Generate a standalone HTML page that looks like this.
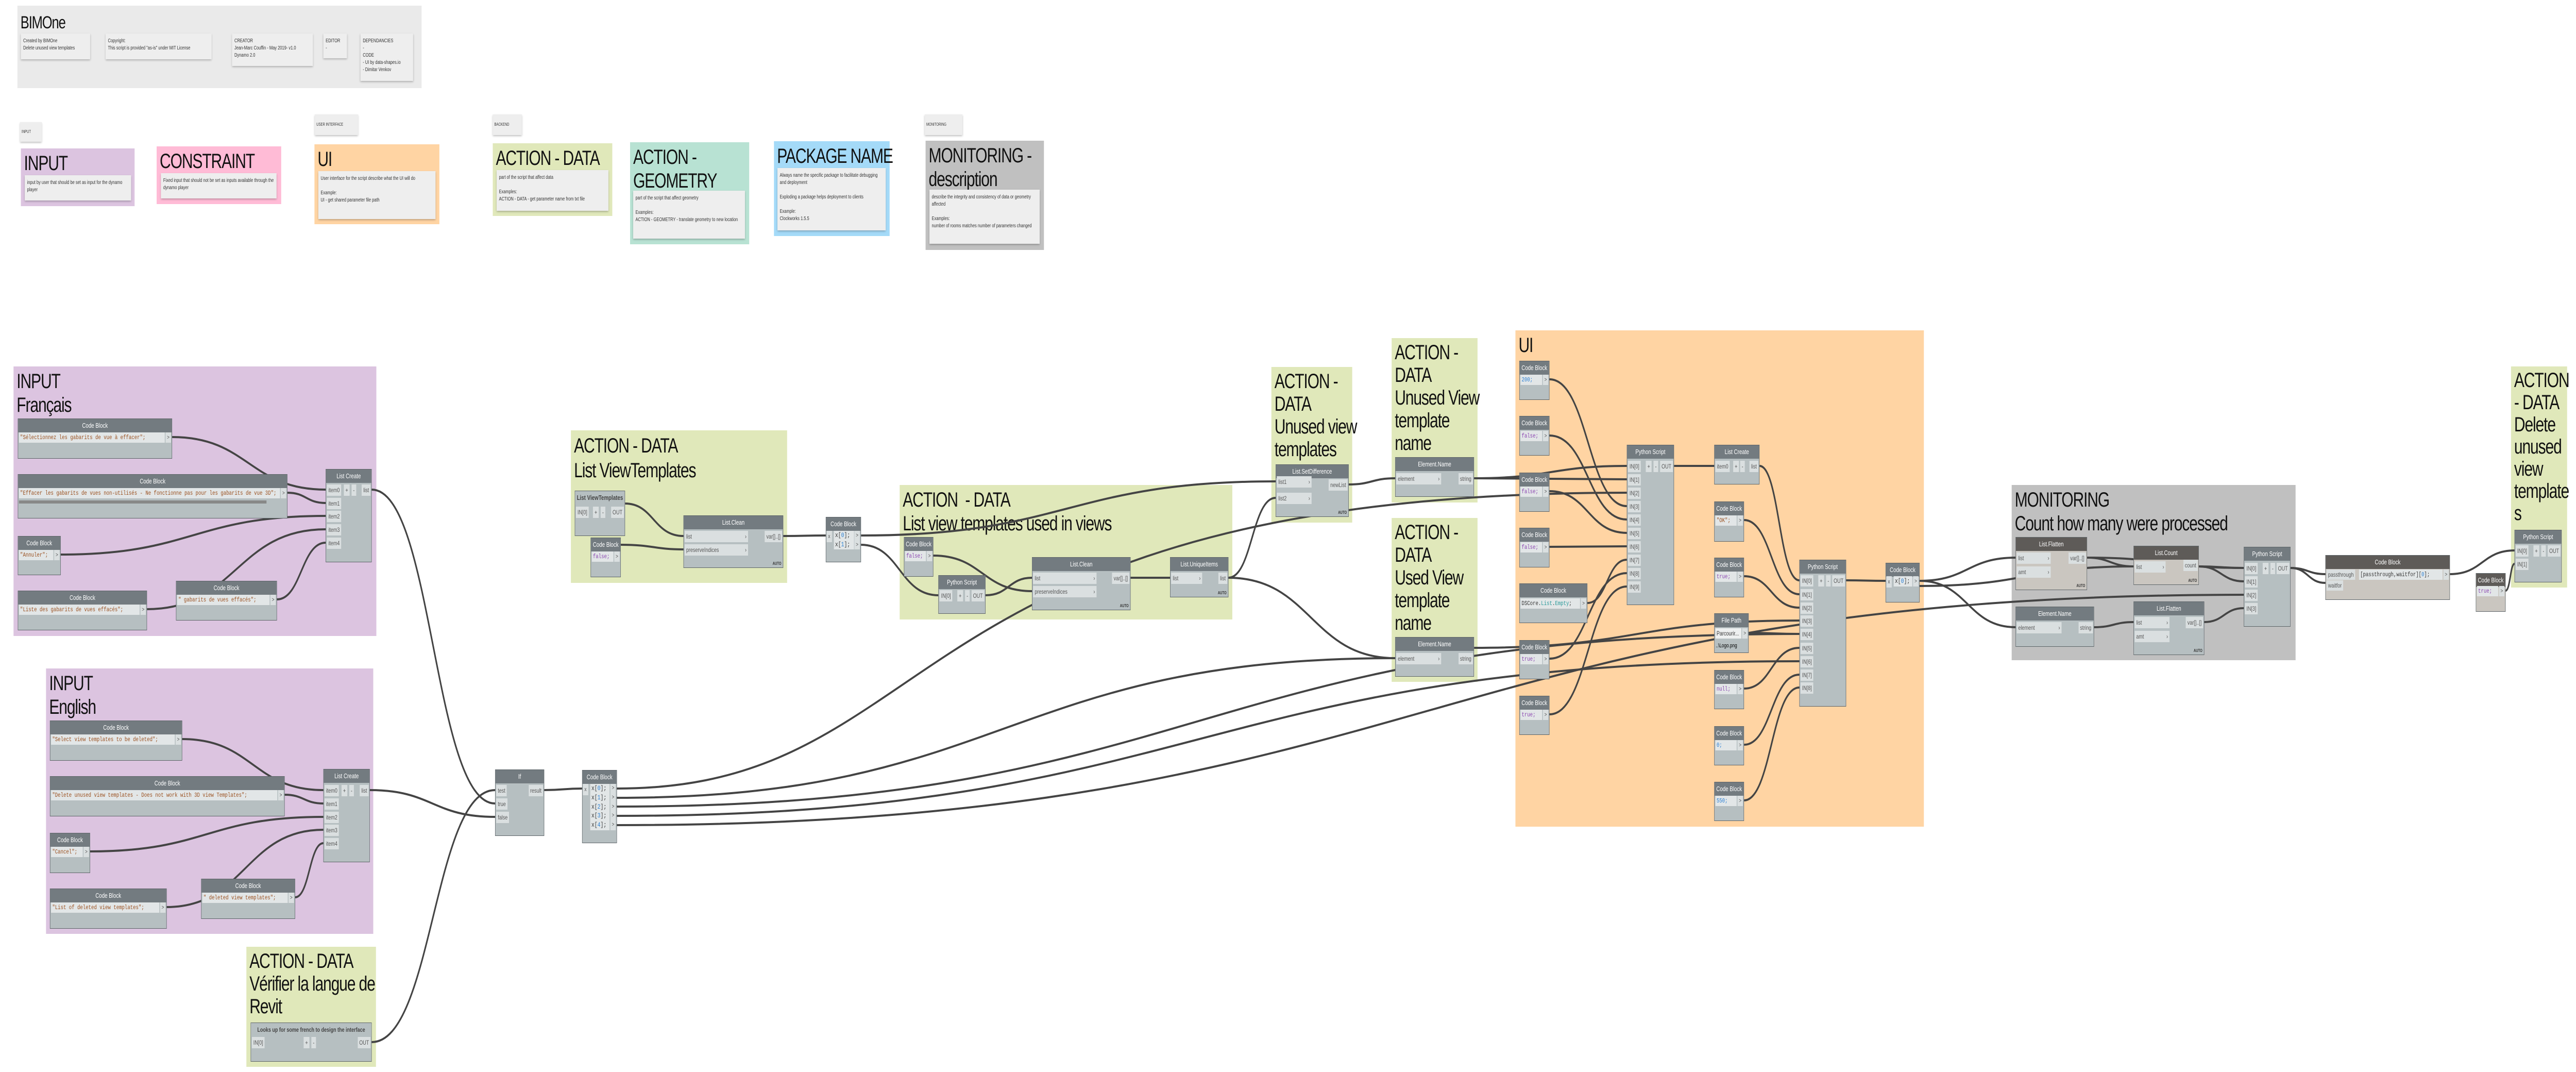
<!DOCTYPE html>
<html><head><meta charset="utf-8">
<style>
*{margin:0;padding:0;box-sizing:border-box}
html,body{margin:0;padding:0;background:#fff;overflow:hidden}
body{width:6660px;height:2080px}
#root{width:6660px;height:2080px;background:#fff;position:relative;overflow:hidden;font-family:"Liberation Sans",sans-serif;transform-origin:0 0}
.grp{position:absolute;z-index:1}
.gt{position:absolute;left:8px;top:6px;font-size:40px;line-height:46px;color:#111;white-space:nowrap;letter-spacing:-1.5px}
.note{position:absolute;background:#eeeeee;box-shadow:0 2px 4px rgba(0,0,0,.25);font-size:10px;line-height:14px;padding:8px 6px;color:#333;z-index:2}
svg.w{position:absolute;left:0;top:0;z-index:3}
.n{position:absolute;background:#B6BFC1;border:1px solid #5d6468;z-index:4}
.n.d{background:#CAC6C0}
.h{height:26px;background:#737B80;color:#fff;font-size:13px;line-height:26px;text-align:center;white-space:nowrap;overflow:hidden}
.d .h{background:#5E5B58}
.h.l{background:#B6BFC1;color:#444;font-weight:bold}
.r{position:absolute;height:22px;line-height:22px;background:#DADFE0;font-size:12px;color:#555;padding:0 4px;white-space:nowrap}
.c{position:absolute;left:2px;height:20px;line-height:20px;background:#E2E6E7;font-family:"Liberation Mono",monospace;font-size:12px;color:#333;padding:0 3px;white-space:nowrap;overflow:hidden}
.o{position:absolute;right:2px;width:14px;height:20px;line-height:20px;background:#DADFE0;font-size:11px;color:#555;text-align:center}
.s{color:#9a4f1e}.k{color:#8a44b0}.nm{color:#2a7fd4}.t{color:#2a9a9a}
.au{position:absolute;right:4px;bottom:3px;font-size:8px;font-weight:bold;color:#333}
</style></head><body>
<div id="root">

<!-- header -->
<div class="grp" style="left:45px;top:11px;width:1045px;height:160px;background:#EAEAEA"><div class="gt" style="font-size:34px;top:10px">BIMOne</div></div>
<div class="note" style="left:54px;top:65px;width:179px;height:50px">Created by BIMOne<br>Delete unused view templates</div>
<div class="note" style="left:273px;top:65px;width:274px;height:50px">Copyright:<br>This script is provided "as-is" under MIT License</div>
<div class="note" style="left:600px;top:65px;width:209px;height:63px">CREATOR<br>Jean-Marc Couffin - May 2019- v1.0<br>Dynamo 2.0</div>
<div class="note" style="left:836px;top:65px;width:61px;height:48px">EDITOR<br>-</div>
<div class="note" style="left:932px;top:65px;width:136px;height:92px">DEPENDANCIES<br>-<br>CODE<br>- UI by data-shapes.io<br>- Dimitar Venkov</div>

<!-- legend -->
<div class="note" style="left:52px;top:237px;width:56px;height:38px;font-size:8px;padding:12px 4px">INPUT</div>
<div class="note" style="left:814px;top:222px;width:112px;height:40px;font-size:8px;padding:13px 4px">USER INTERFACE</div>
<div class="note" style="left:1274px;top:222px;width:75px;height:40px;font-size:8px;padding:13px 4px">BACKEND</div>
<div class="note" style="left:2391px;top:222px;width:97px;height:40px;font-size:8px;padding:13px 4px">MONITORING</div>

<div class="grp" style="left:54px;top:288px;width:294px;height:112px;background:#DCC4E0"><div class="gt">INPUT</div></div>
<div class="note" style="left:64px;top:340px;width:275px;height:49px">input by user that should be set as input for the dynamo player</div>
<div class="grp" style="left:405px;top:284px;width:322px;height:112px;background:#FFBBD6"><div class="gt">CONSTRAINT</div></div>
<div class="note" style="left:416px;top:336px;width:299px;height:49px">Fixed input that should not be set as inputs available through the dynamo player</div>
<div class="grp" style="left:813px;top:280px;width:323px;height:155px;background:#FFD4A3"><div class="gt">UI</div></div>
<div class="note" style="left:823px;top:332px;width:303px;height:93px">User interface for the script describe what the UI will do<br><br>Example:<br>UI - get shared parameter file path</div>
<div class="grp" style="left:1274px;top:278px;width:309px;height:141px;background:#E0E8BA"><div class="gt">ACTION - DATA</div></div>
<div class="note" style="left:1284px;top:330px;width:289px;height:79px">part of the script that affect data<br><br>Examples:<br>ACTION - DATA - get parameter name from txt file</div>
<div class="grp" style="left:1629px;top:276px;width:308px;height:198px;background:#B8E2D3"><div class="gt">ACTION -<br>GEOMETRY</div></div>
<div class="note" style="left:1637px;top:370px;width:289px;height:93px">part of the script that affect geometry<br><br>Examples:<br>ACTION - GEOMETRY - translate geometry to new location</div>
<div class="grp" style="left:2001px;top:274px;width:299px;height:184px;background:#A4DAF8"><div class="gt">PACKAGE NAME</div></div>
<div class="note" style="left:2010px;top:326px;width:280px;height:121px">Always name the specific package to facilitate debugging and deployment<br><br>Exploding a package helps deployment to clients<br><br>Example:<br>Clockworks 1.5.5</div>
<div class="grp" style="left:2393px;top:273px;width:306px;height:212px;background:#C0C0C0"><div class="gt">MONITORING -<br>description</div></div>
<div class="note" style="left:2403px;top:368px;width:285px;height:105px">describe the integrity and consistency of data or geometry affected<br><br>Examples:<br>number of rooms matches number of parameters changed</div>

<!-- main groups -->
<div class="grp" style="left:35px;top:711px;width:938px;height:523px;background:#DCC4E0"><div class="gt">INPUT<br>Français</div></div>
<div class="grp" style="left:119px;top:1297px;width:846px;height:515px;background:#DCC4E0"><div class="gt">INPUT<br>English</div></div>
<div class="grp" style="left:637px;top:1837px;width:335px;height:233px;background:#E0E8BA"><div class="gt" style="line-height:44px">ACTION - DATA<br>Vérifier la langue de<br>Revit</div></div>
<div class="grp" style="left:1476px;top:835px;width:559px;height:296px;background:#E0E8BA"><div class="gt" style="line-height:48px">ACTION - DATA<br>List ViewTemplates</div></div>
<div class="grp" style="left:2326px;top:941px;width:860px;height:261px;background:#E0E8BA"><div class="gt">ACTION&nbsp; - DATA<br>List view templates used in views</div></div>
<div class="grp" style="left:3287px;top:712px;width:209px;height:302px;background:#E0E8BA"><div class="gt" style="line-height:44px">ACTION -<br>DATA<br>Unused view<br>templates</div></div>
<div class="grp" style="left:3598px;top:656px;width:222px;height:319px;background:#E0E8BA"><div class="gt" style="line-height:44px">ACTION -<br>DATA<br>Unused View<br>template<br>name</div></div>
<div class="grp" style="left:3598px;top:1005px;width:222px;height:318px;background:#E0E8BA"><div class="gt" style="line-height:44px">ACTION -<br>DATA<br>Used View<br>template<br>name</div></div>
<div class="grp" style="left:3918px;top:641px;width:1056px;height:963px;background:#FFD4A3"><div class="gt">UI</div></div>
<div class="grp" style="left:5201px;top:941px;width:734px;height:340px;background:#C0C0C0"><div class="gt">MONITORING<br>Count how many were processed</div></div>
<div class="grp" style="left:6492px;top:711px;width:145px;height:429px;background:#E0E8BA"><div class="gt" style="line-height:43px">ACTION<br>- DATA<br>Delete<br>unused<br>view<br>template<br>s</div></div>

<svg class="w" width="6660" height="2080" fill="none" stroke="#444" stroke-width="4">
<path d="M445 848C643 848 644 950 842 950"/>
<path d="M743 956C792 956 792 976 842 976"/>
<path d="M157 1076C500 1076 500 1001 842 1001"/>
<path d="M380 1182C611 1182 611 1027 842 1027"/>
<path d="M716 1163C779 1163 779 1053 842 1053"/>
<path d="M471 1434C654 1434 654 1533 836 1533"/>
<path d="M736 1542C786 1542 786 1559 836 1559"/>
<path d="M233 1652C535 1652 535 1585 836 1585"/>
<path d="M431 1760C634 1760 634 1610 836 1610"/>
<path d="M763 1741C800 1741 800 1636 836 1636"/>
<path d="M961 950C1120 950 1120 1559 1280 1559"/>
<path d="M956 1533C1118 1533 1118 1585 1280 1585"/>
<path d="M961 2022C1120 2022 1120 1533 1280 1533"/>
<path d="M1407 1533C1456 1533 1456 1530 1505 1530"/>
<path d="M1595 1530C2450 1530 2300 956 4206 956"/>
<path d="M1595 1548C2600 1548 2600 1277 3607 1277"/>
<path d="M1595 1565C3100 1565 3100 1230 4652 1230"/>
<path d="M1595 1583C3100 1583 3100 1283 4652 1283"/>
<path d="M1595 1601C3700 1601 3700 1154 5801 1154"/>
<path d="M1616 977C1690 977 1690 1040 1767 1040"/>
<path d="M1605 1057C1690 1057 1690 1066 1767 1066"/>
<path d="M2025 1040C2080 1040 2080 1039 2135 1039"/>
<path d="M2226 1039C2760 1039 2760 934 3298 934"/>
<path d="M2226 1057C2326 1057 2326 1155 2426 1155"/>
<path d="M2413 1078C2540 1078 2540 1147 2668 1147"/>
<path d="M2548 1155C2608 1155 2608 1121 2668 1121"/>
<path d="M2923 1121C2974 1121 2974 1121 3025 1121"/>
<path d="M3176 1121C3237 1121 3237 966 3298 966"/>
<path d="M3176 1121C3390 1121 3390 1277 3607 1277"/>
<path d="M3487 940C3547 940 3547 928 3607 928"/>
<path d="M3811 928C4010 928 4010 904 4206 904"/>
<path d="M3811 928C4010 928 4010 930 4206 930"/>
<path d="M4006 736C4106 736 4106 982 4206 982"/>
<path d="M4006 845C4106 845 4106 1008 4206 1008"/>
<path d="M4006 953C4106 953 4106 1034 4206 1034"/>
<path d="M4006 1061C4106 1061 4106 1060 4206 1060"/>
<path d="M4104 1170C4155 1170 4155 1086 4206 1086"/>
<path d="M4006 1278C4106 1278 4106 1112 4206 1112"/>
<path d="M4006 1386C4106 1386 4106 1138 4206 1138"/>
<path d="M4328 904C4380 904 4380 904 4432 904"/>
<path d="M4549 904C4600 904 4600 1126 4652 1126"/>
<path d="M4509 1009C4580 1009 4580 1153 4652 1153"/>
<path d="M4509 1118C4580 1118 4580 1179 4652 1179"/>
<path d="M3811 1257C4230 1257 4230 1204 4652 1204"/>
<path d="M4521 1228C4586 1228 4586 1230 4652 1230"/>
<path d="M4509 1336C4580 1336 4580 1257 4652 1257"/>
<path d="M4509 1445C4580 1445 4580 1309 4652 1309"/>
<path d="M4509 1553C4580 1553 4580 1334 4652 1334"/>
<path d="M4773 1126C4824 1126 4824 1127 4875 1127"/>
<path d="M4963 1127C5087 1127 5087 1082 5211 1082"/>
<path d="M4963 1127C5087 1127 5087 1217 5211 1217"/>
<path d="M4963 1137C5240 1137 5240 1099 5516 1099"/>
<path d="M5396 1082C5456 1082 5456 1099 5516 1099"/>
<path d="M5396 1082C5600 1082 5600 1102 5801 1102"/>
<path d="M5685 1099C5743 1099 5743 1128 5801 1128"/>
<path d="M5685 1099C5743 1099 5743 1102 5801 1102"/>
<path d="M5414 1217C5465 1217 5465 1207 5516 1207"/>
<path d="M5699 1207C5750 1207 5750 1180 5801 1180"/>
<path d="M5922 1102C5967 1102 5967 1114 6012 1114"/>
<path d="M5922 1102C5967 1102 5967 1131 6012 1131"/>
<path d="M6334 1114C6418 1114 6418 1068 6501 1068"/>
<path d="M6478 1146C6490 1146 6490 1094 6501 1094"/>
</svg>

<!-- Français nodes -->
<div class="n" style="left:46px;top:812px;width:399px;height:78px"><div class="h">Code Block</div><div class="c s" style="top:26px;right:18px">"Sélectionnez les gabarits de vue à effacer";</div><div class="o" style="top:26px">&gt;</div></div>
<div class="n" style="left:46px;top:920px;width:697px;height:86px"><div class="h">Code Block</div><div class="c s" style="top:26px;right:18px">"Effacer les gabarits de vues non-utilisés - Ne fonctionne pas pour les gabarits de vue 3D";</div><div class="o" style="top:26px">&gt;</div><div style="position:absolute;left:2px;top:50px;width:640px;height:6px;background:#888"></div></div>
<div class="n" style="left:46px;top:1040px;width:111px;height:76px"><div class="h">Code Block</div><div class="c s" style="top:26px;right:18px">"Annuler";</div><div class="o" style="top:26px">&gt;</div></div>
<div class="n" style="left:46px;top:1146px;width:334px;height:77px"><div class="h">Code Block</div><div class="c s" style="top:26px;right:18px">"Liste des gabarits de vues effacés";</div><div class="o" style="top:26px">&gt;</div></div>
<div class="n" style="left:455px;top:1127px;width:261px;height:77px"><div class="h">Code Block</div><div class="c s" style="top:26px;right:18px">" gabarits de vues effacés";</div><div class="o" style="top:26px">&gt;</div></div>
<div class="n" style="left:842px;top:910px;width:119px;height:181px"><div class="h">List Create</div>
<div class="r" style="left:2px;top:29px">item0</div><div class="r" style="left:2px;top:55px">item1</div><div class="r" style="left:2px;top:80px">item2</div><div class="r" style="left:2px;top:106px">item3</div><div class="r" style="left:2px;top:132px">item4</div><div class="r" style="left:46px;top:29px">+</div><div class="r" style="left:66px;top:29px">-</div><div class="r" style="right:2px;top:29px">list</div></div>

<!-- English nodes -->
<div class="n" style="left:129px;top:1398px;width:342px;height:78px"><div class="h">Code Block</div><div class="c s" style="top:26px;right:18px">"Select view templates to be deleted";</div><div class="o" style="top:26px">&gt;</div></div>
<div class="n" style="left:129px;top:1506px;width:607px;height:78px"><div class="h">Code Block</div><div class="c s" style="top:26px;right:18px">"Delete unused view templates - Does not work with 3D view Templates";</div><div class="o" style="top:26px">&gt;</div></div>
<div class="n" style="left:129px;top:1616px;width:104px;height:78px"><div class="h">Code Block</div><div class="c s" style="top:26px;right:18px">"Cancel";</div><div class="o" style="top:26px">&gt;</div></div>
<div class="n" style="left:129px;top:1724px;width:302px;height:78px"><div class="h">Code Block</div><div class="c s" style="top:26px;right:18px">"List of deleted view templates";</div><div class="o" style="top:26px">&gt;</div></div>
<div class="n" style="left:520px;top:1705px;width:243px;height:78px"><div class="h">Code Block</div><div class="c s" style="top:26px;right:18px">" deleted view templates";</div><div class="o" style="top:26px">&gt;</div></div>
<div class="n" style="left:836px;top:1492px;width:120px;height:181px"><div class="h">List Create</div>
<div class="r" style="left:2px;top:30px">item0</div><div class="r" style="left:2px;top:56px">item1</div><div class="r" style="left:2px;top:82px">item2</div><div class="r" style="left:2px;top:107px">item3</div><div class="r" style="left:2px;top:133px">item4</div><div class="r" style="left:46px;top:30px">+</div><div class="r" style="left:66px;top:30px">-</div><div class="r" style="right:2px;top:30px">list</div></div>

<div class="n" style="left:648px;top:1984px;width:313px;height:76px"><div class="h" style="background:#B6BFC1;color:#444;font-weight:bold;font-size:12px">Looks up for some french to design the interface</div><div class="r" style="left:2px;top:27px">IN[0]</div><div class="r" style="left:136px;top:27px">+</div><div class="r" style="left:156px;top:27px">-</div><div class="r" style="right:2px;top:27px">OUT</div></div>

<div class="n" style="left:1280px;top:1493px;width:127px;height:129px"><div class="h">If</div><div class="r" style="left:2px;top:29px">test</div><div class="r" style="left:2px;top:55px">true</div><div class="r" style="left:2px;top:81px">false</div><div class="r" style="right:2px;top:29px">result</div></div>
<div class="n" style="left:1505px;top:1494px;width:90px;height:142px"><div class="h">Code Block</div><div class="r" style="left:1px;top:26px;font-size:11px">x</div>
<div class="c" style="left:20px;top:26px;width:50px;font-size:13px;height:90px;line-height:17.8px">x[<span class="nm">0</span>];<br>x[<span class="nm">1</span>];<br>x[<span class="nm">2</span>];<br>x[<span class="nm">3</span>];<br>x[<span class="nm">4</span>];</div><div class="o" style="top:26px;height:90px;line-height:17.8px">&gt;<br>&gt;<br>&gt;<br>&gt;<br>&gt;</div></div>

<!-- List ViewTemplates -->
<div class="n" style="left:1486px;top:952px;width:130px;height:88px"><div class="h l">List ViewTemplates</div><div class="r" style="left:2px;top:30px">IN[0]</div><div class="r" style="left:46px;top:30px">+</div><div class="r" style="left:66px;top:30px">-</div><div class="r" style="right:2px;top:30px">OUT</div></div>
<div class="n" style="left:1767px;top:1000px;width:258px;height:102px"><div class="h">List.Clean</div><div class="r" style="left:2px;top:29px;width:164px">list<span style="float:right">›</span></div><div class="r" style="left:2px;top:55px;width:164px">preserveIndices<span style="float:right">›</span></div><div class="r" style="right:2px;top:29px">var[]..[]</div><div class="au">AUTO</div></div>
<div class="n" style="left:1527px;top:1043px;width:78px;height:77px"><div class="h">Code Block</div><div class="c k" style="top:26px;right:18px">false;</div><div class="o" style="top:26px">&gt;</div></div>

<!-- used in views -->
<div class="n" style="left:2135px;top:1003px;width:91px;height:88px"><div class="h">Code Block</div><div class="r" style="left:1px;top:26px;font-size:11px">x</div><div class="c" style="left:20px;top:26px;width:52px;height:36px;line-height:18px;font-size:13px">x[<span class="nm">0</span>];<br>x[<span class="nm">1</span>];</div><div class="o" style="top:26px;height:36px;line-height:18px">&gt;<br>&gt;</div></div>
<div class="n" style="left:2337px;top:1042px;width:76px;height:77px"><div class="h">Code Block</div><div class="c k" style="top:26px;right:18px">false;</div><div class="o" style="top:26px">&gt;</div></div>
<div class="n" style="left:2426px;top:1116px;width:122px;height:75px"><div class="h">Python Script</div><div class="r" style="left:2px;top:28px">IN[0]</div><div class="r" style="left:48px;top:28px">+</div><div class="r" style="left:68px;top:28px">-</div><div class="r" style="right:2px;top:28px">OUT</div></div>
<div class="n" style="left:2668px;top:1081px;width:255px;height:103px"><div class="h">List.Clean</div><div class="r" style="left:2px;top:29px;width:164px">list<span style="float:right">›</span></div><div class="r" style="left:2px;top:55px;width:164px">preserveIndices<span style="float:right">›</span></div><div class="r" style="right:2px;top:29px">var[]..[]</div><div class="au">AUTO</div></div>
<div class="n" style="left:3025px;top:1081px;width:151px;height:78px"><div class="h">List.UniqueItems</div><div class="r" style="left:2px;top:29px;width:80px">list<span style="float:right">›</span></div><div class="r" style="right:2px;top:29px">list</div><div class="au">AUTO</div></div>
<div class="n" style="left:3298px;top:901px;width:189px;height:102px"><div class="h">List.SetDifference</div><div class="r" style="left:2px;top:22px;width:90px">list1<span style="float:right">›</span></div><div class="r" style="left:2px;top:54px;width:90px">list2<span style="float:right">›</span></div><div class="r" style="right:2px;top:28px">newList</div><div class="au">AUTO</div></div>
<div class="n" style="left:3607px;top:887px;width:204px;height:77px"><div class="h">Element.Name</div><div class="r" style="left:2px;top:30px;width:116px">element<span style="float:right">›</span></div><div class="r" style="right:2px;top:30px">string</div></div>
<div class="n" style="left:3607px;top:1236px;width:204px;height:77px"><div class="h">Element.Name</div><div class="r" style="left:2px;top:30px;width:116px">element<span style="float:right">›</span></div><div class="r" style="right:2px;top:30px">string</div></div>

<!-- UI nodes -->
<div class="n" style="left:3928px;top:700px;width:78px;height:76px"><div class="h">Code Block</div><div class="c nm" style="top:26px;right:18px">200;</div><div class="o" style="top:26px">&gt;</div></div>
<div class="n" style="left:3928px;top:807px;width:78px;height:77px"><div class="h">Code Block</div><div class="c k" style="top:28px;right:18px">false;</div><div class="o" style="top:28px">&gt;</div></div>
<div class="n" style="left:3928px;top:917px;width:78px;height:76px"><div class="h">Code Block</div><div class="c k" style="top:26px;right:18px">false;</div><div class="o" style="top:26px">&gt;</div></div>
<div class="n" style="left:3928px;top:1024px;width:78px;height:77px"><div class="h">Code Block</div><div class="c k" style="top:27px;right:18px">false;</div><div class="o" style="top:27px">&gt;</div></div>
<div class="n" style="left:3928px;top:1132px;width:176px;height:77px"><div class="h">Code Block</div><div class="c" style="top:28px;right:18px">DSCore.<span class="t">List</span>.<span class="t">Empty</span>;</div><div class="o" style="top:28px">&gt;</div></div>
<div class="n" style="left:3928px;top:1242px;width:78px;height:76px"><div class="h">Code Block</div><div class="c k" style="top:26px;right:18px">true;</div><div class="o" style="top:26px">&gt;</div></div>
<div class="n" style="left:3928px;top:1350px;width:78px;height:76px"><div class="h">Code Block</div><div class="c k" style="top:26px;right:18px">true;</div><div class="o" style="top:26px">&gt;</div></div>
<div class="n" style="left:4206px;top:863px;width:122px;height:311px"><div class="h">Python Script</div>
<div class="r" style="left:2px;top:30px">IN[0]</div><div class="r" style="left:2px;top:56px">IN[1]</div><div class="r" style="left:2px;top:82px">IN[2]</div><div class="r" style="left:2px;top:108px">IN[3]</div><div class="r" style="left:2px;top:134px">IN[4]</div><div class="r" style="left:2px;top:160px">IN[5]</div><div class="r" style="left:2px;top:186px">IN[6]</div><div class="r" style="left:2px;top:212px">IN[7]</div><div class="r" style="left:2px;top:238px">IN[8]</div><div class="r" style="left:2px;top:264px">IN[9]</div>
<div class="r" style="left:48px;top:30px">+</div><div class="r" style="left:68px;top:30px">-</div><div class="r" style="right:2px;top:30px">OUT</div></div>
<div class="n" style="left:4432px;top:863px;width:117px;height:77px"><div class="h">List Create</div><div class="r" style="left:2px;top:30px">item0</div><div class="r" style="left:48px;top:30px">+</div><div class="r" style="left:66px;top:30px">-</div><div class="r" style="right:2px;top:30px">list</div></div>
<div class="n" style="left:4432px;top:973px;width:77px;height:78px"><div class="h">Code Block</div><div class="c s" style="top:26px;right:18px">"OK";</div><div class="o" style="top:26px">&gt;</div></div>
<div class="n" style="left:4432px;top:1082px;width:77px;height:77px"><div class="h">Code Block</div><div class="c k" style="top:26px;right:18px">true;</div><div class="o" style="top:26px">&gt;</div></div>
<div class="n" style="left:4432px;top:1190px;width:89px;height:77px"><div class="h">File Path</div><div class="c" style="top:28px;right:18px;font-family:'Liberation Sans',sans-serif;background:#eef0f0">Parcourir...</div><div class="o" style="top:28px">&gt;</div><div style="position:absolute;left:3px;top:56px;font-size:11px">..\Logo.png</div></div>
<div class="n" style="left:4432px;top:1300px;width:77px;height:76px"><div class="h">Code Block</div><div class="c k" style="top:26px;right:18px">null;</div><div class="o" style="top:26px">&gt;</div></div>
<div class="n" style="left:4432px;top:1409px;width:77px;height:76px"><div class="h">Code Block</div><div class="c nm" style="top:26px;right:18px">0;</div><div class="o" style="top:26px">&gt;</div></div>
<div class="n" style="left:4432px;top:1517px;width:77px;height:76px"><div class="h">Code Block</div><div class="c nm" style="top:26px;right:18px">550;</div><div class="o" style="top:26px">&gt;</div></div>
<div class="n" style="left:4652px;top:1086px;width:121px;height:285px"><div class="h">Python Script</div>
<div class="r" style="left:2px;top:29px">IN[0]</div><div class="r" style="left:2px;top:56px">IN[1]</div><div class="r" style="left:2px;top:82px">IN[2]</div><div class="r" style="left:2px;top:107px">IN[3]</div><div class="r" style="left:2px;top:133px">IN[4]</div><div class="r" style="left:2px;top:160px">IN[5]</div><div class="r" style="left:2px;top:186px">IN[6]</div><div class="r" style="left:2px;top:212px">IN[7]</div><div class="r" style="left:2px;top:237px">IN[8]</div>
<div class="r" style="left:48px;top:29px">+</div><div class="r" style="left:68px;top:29px">-</div><div class="r" style="right:2px;top:29px">OUT</div></div>
<div class="n" style="left:4875px;top:1092px;width:88px;height:77px"><div class="h">Code Block</div><div class="r" style="left:1px;top:25px;font-size:11px">x</div><div class="c" style="left:20px;top:25px;width:48px;font-size:13px">x[<span class="nm">0</span>];</div><div class="o" style="top:25px">&gt;</div></div>

<!-- Monitoring -->
<div class="n d" style="left:5211px;top:1042px;width:185px;height:103px"><div class="h">List.Flatten</div><div class="r" style="left:2px;top:29px;width:88px">list<span style="float:right">›</span></div><div class="r" style="left:2px;top:56px;width:88px">amt<span style="float:right">›</span></div><div class="r" style="right:2px;top:29px">var[]..[]</div><div class="au">AUTO</div></div>
<div class="n d" style="left:5516px;top:1059px;width:169px;height:76px"><div class="h">List.Count</div><div class="r" style="left:2px;top:29px;width:80px">list<span style="float:right">›</span></div><div class="r" style="right:2px;top:26px">count</div><div class="au">AUTO</div></div>
<div class="n" style="left:5211px;top:1177px;width:203px;height:78px"><div class="h">Element.Name</div><div class="r" style="left:2px;top:29px;width:116px">element<span style="float:right">›</span></div><div class="r" style="right:2px;top:29px">string</div></div>
<div class="n" style="left:5516px;top:1167px;width:183px;height:104px"><div class="h">List.Flatten</div><div class="r" style="left:2px;top:29px;width:90px">list<span style="float:right">›</span></div><div class="r" style="left:2px;top:56px;width:90px">amt<span style="float:right">›</span></div><div class="r" style="right:2px;top:29px">var[]..[]</div><div class="au">AUTO</div></div>
<div class="n" style="left:5801px;top:1061px;width:121px;height:155px"><div class="h">Python Script</div><div class="r" style="left:2px;top:30px">IN[0]</div><div class="r" style="left:2px;top:56px">IN[1]</div><div class="r" style="left:2px;top:82px">IN[2]</div><div class="r" style="left:2px;top:108px">IN[3]</div><div class="r" style="left:48px;top:30px">+</div><div class="r" style="left:68px;top:30px">-</div><div class="r" style="right:2px;top:30px">OUT</div></div>
<div class="n d" style="left:6012px;top:1077px;width:322px;height:87px"><div class="h" style="background:#5E5B58">Code Block</div><div class="r" style="left:2px;top:27px;height:20px;line-height:20px">passthrough</div><div class="r" style="left:2px;top:48px;height:20px;line-height:20px">waitfor</div><div class="c" style="left:86px;top:27px;right:18px">[passthrough,waitfor][<span class="nm">0</span>];</div><div class="o" style="top:27px">&gt;</div></div>
<div class="n d" style="left:6401px;top:1112px;width:77px;height:75px"><div class="h" style="background:#5E5B58">Code Block</div><div class="c k" style="top:24px;right:18px">true;</div><div class="o" style="top:24px">&gt;</div></div>
<div class="n" style="left:6501px;top:1028px;width:122px;height:102px"><div class="h">Python Script</div><div class="r" style="left:2px;top:29px">IN[0]</div><div class="r" style="left:2px;top:55px">IN[1]</div><div class="r" style="left:48px;top:29px">+</div><div class="r" style="left:68px;top:29px">-</div><div class="r" style="right:2px;top:29px">OUT</div></div>

</div>
<script>
(function(){
  var w = window.innerWidth || document.documentElement.clientWidth || 6660;
  var h = window.innerHeight || document.documentElement.clientHeight || 2080;
  var sx = w / 6660, sy = h / 2080;
  if (sx > 1.001 || sx < 0.999 || sy > 1.001 || sy < 0.999) {
    var r = document.getElementById('root');
    r.style.transform = 'scale(' + sx + ',' + sy + ')';
    document.body.style.width = (6660 * sx) + 'px';
    document.body.style.height = (2080 * sy) + 'px';
    document.documentElement.style.width = (6660 * sx) + 'px';
    document.documentElement.style.height = (2080 * sy) + 'px';
  }
})();
</script>
</body></html>
